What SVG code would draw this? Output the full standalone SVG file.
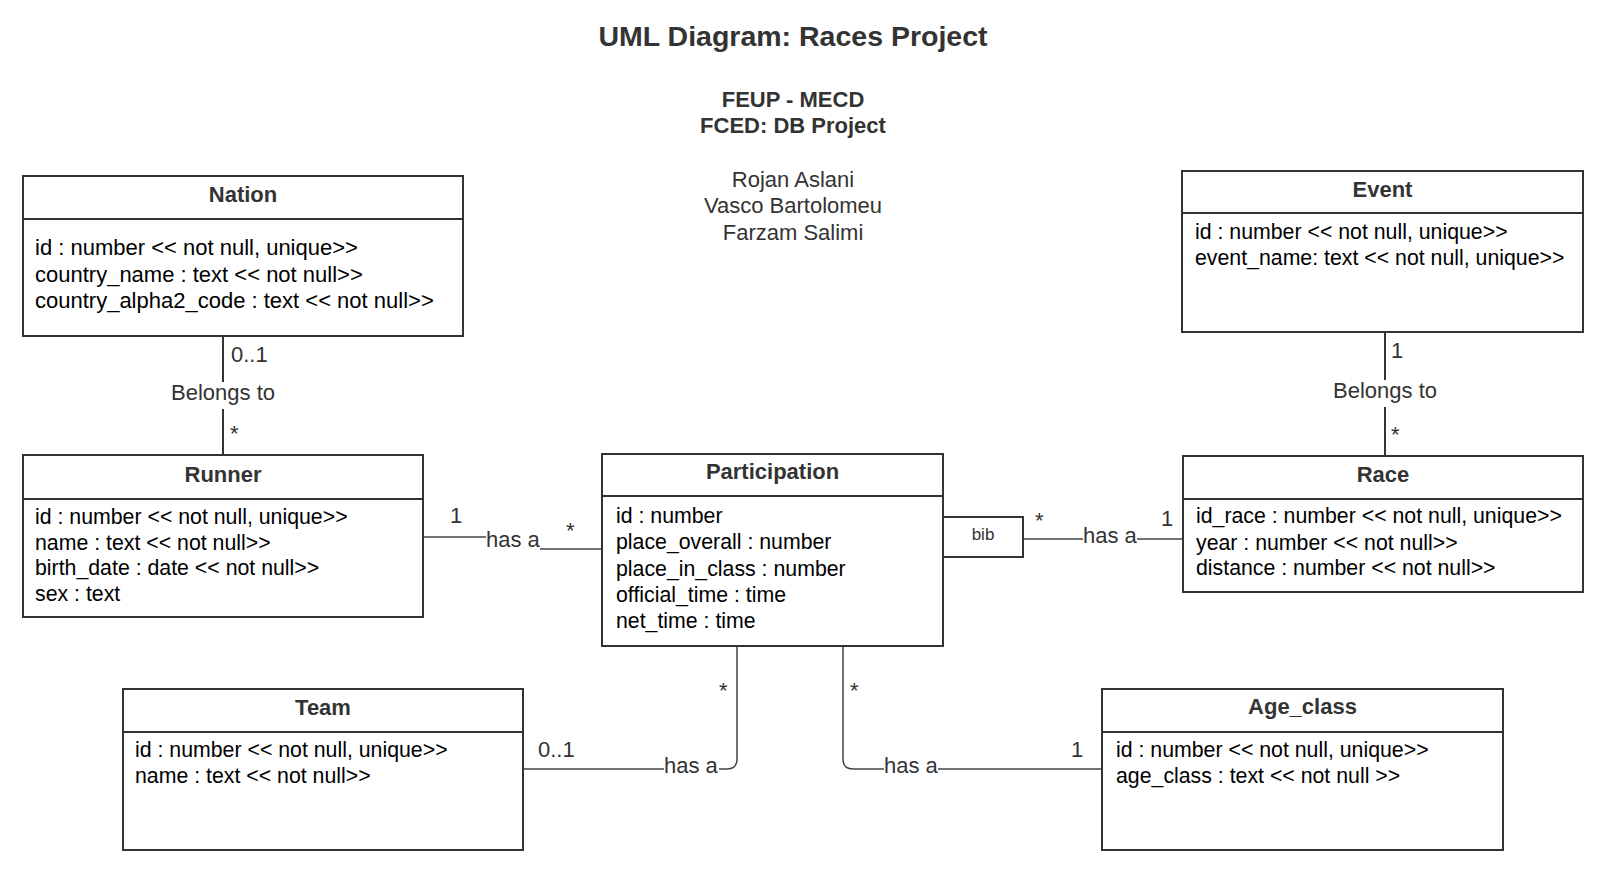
<svg xmlns="http://www.w3.org/2000/svg" width="1606" height="876" viewBox="0 0 1606 876">
<style>
.box{fill:#fff;stroke:#333;stroke-width:2}
.sep{stroke:#333;stroke-width:2}
.ttl{font-family:"Liberation Sans",Arial,sans-serif;font-weight:bold;font-size:22px;fill:#333;text-anchor:middle}
.att{font-family:"Liberation Sans",Arial,sans-serif;font-size:21.3px;fill:#000}
.att22{font-family:"Liberation Sans",Arial,sans-serif;font-size:22px;fill:#000}
.lbl{font-family:"Liberation Sans",Arial,sans-serif;font-size:22px;fill:#333}
.bibt{font-family:"Liberation Sans",Arial,sans-serif;font-size:17px;fill:#333;text-anchor:middle}
.mid{text-anchor:middle}
.con{fill:none;stroke:#444;stroke-width:1.5}
.conb{fill:none;stroke:#333;stroke-width:2}
.hdr{font-family:"Liberation Sans",Arial,sans-serif;fill:#333;text-anchor:middle}
</style>
<rect width="1606" height="876" fill="#fff"/>
<g id="header">
<text class="hdr" x="793" y="46" font-size="28.5" font-weight="bold">UML Diagram: Races Project</text>
<text class="hdr" x="793" y="107" font-size="22" font-weight="bold">FEUP - MECD</text>
<text class="hdr" x="793" y="133" font-size="22" font-weight="bold">FCED: DB Project</text>
<text class="hdr" x="793" y="187" font-size="22">Rojan Aslani</text>
<text class="hdr" x="793" y="213" font-size="22">Vasco Bartolomeu</text>
<text class="hdr" x="793" y="240" font-size="22">Farzam Salimi</text>
</g>
<g id="connectors">
<path class="conb" d="M223 336V382M223 409V455"/>
<text class="lbl mid" x="223" y="400">Belongs to</text>
<text class="lbl" x="231" y="362">0..1</text>
<text class="lbl" x="230" y="441">*</text>
<path class="conb" d="M1385 332V380M1385 407V456"/>
<text class="lbl mid" x="1385" y="398">Belongs to</text>
<text class="lbl" x="1391" y="358">1</text>
<text class="lbl" x="1391" y="442">*</text>
<path class="con" d="M423 537H486M540 549H602"/>
<text class="lbl" x="486" y="547">has a</text>
<text class="lbl" x="450" y="523">1</text>
<text class="lbl" x="566" y="538">*</text>
<path class="con" d="M1023 539H1083M1137 539H1183"/>
<text class="lbl" x="1083" y="543">has a</text>
<text class="lbl" x="1035" y="528">*</text>
<text class="lbl" x="1161" y="526">1</text>
<path class="con" d="M523 769H664M719 769H727Q737 769 737 759V646"/>
<text class="lbl" x="664" y="773">has a</text>
<text class="lbl" x="538" y="757">0..1</text>
<text class="lbl" x="719" y="698">*</text>
<path class="con" d="M843 646V759Q843 769 853 769H884M938 769H1102"/>
<text class="lbl" x="884" y="773">has a</text>
<text class="lbl" x="850" y="698">*</text>
<text class="lbl" x="1071" y="757">1</text>
</g>
<g id="nation">
<rect class="box" x="23" y="176" width="440" height="160"/>
<line class="sep" x1="23" y1="219" x2="463" y2="219"/>
<text class="ttl" x="243" y="202">Nation</text>
<text class="att22" x="35" y="255">id : number &lt;&lt; not null, unique&gt;&gt;</text>
<text class="att22" x="35" y="282">country_name : text &lt;&lt; not null&gt;&gt;</text>
<text class="att22" x="35" y="308">country_alpha2_code : text &lt;&lt; not null&gt;&gt;</text>
</g>
<g id="event">
<rect class="box" x="1182" y="171" width="401" height="161"/>
<line class="sep" x1="1182" y1="213" x2="1583" y2="213"/>
<text class="ttl" x="1382.5" y="197">Event</text>
<text class="att" x="1195" y="239">id : number &lt;&lt; not null, unique&gt;&gt;</text>
<text class="att" x="1195" y="265">event_name: text &lt;&lt; not null, unique&gt;&gt;</text>
</g>
<g id="runner">
<rect class="box" x="23" y="455" width="400" height="162"/>
<line class="sep" x1="23" y1="499" x2="423" y2="499"/>
<text class="ttl" x="223" y="482">Runner</text>
<text class="att" x="35" y="524">id : number &lt;&lt; not null, unique&gt;&gt;</text>
<text class="att" x="35" y="550">name : text &lt;&lt; not null&gt;&gt;</text>
<text class="att" x="35" y="575">birth_date : date &lt;&lt; not null&gt;&gt;</text>
<text class="att" x="35" y="601">sex : text</text>
</g>
<g id="participation">
<rect class="box" x="602" y="454" width="341" height="192"/>
<line class="sep" x1="602" y1="496" x2="943" y2="496"/>
<text class="ttl" x="772.5" y="479">Participation</text>
<text class="att" x="616" y="523">id : number</text>
<text class="att" x="616" y="549">place_overall : number</text>
<text class="att" x="616" y="576">place_in_class : number</text>
<text class="att" x="616" y="602">official_time : time</text>
<text class="att" x="616" y="628">net_time : time</text>
</g>
<g id="bib">
<rect class="box" x="943" y="517" width="80" height="40"/>
<text class="bibt" x="983" y="540">bib</text>
</g>
<g id="race">
<rect class="box" x="1183" y="456" width="400" height="136"/>
<line class="sep" x1="1183" y1="499" x2="1583" y2="499"/>
<text class="ttl" x="1383" y="482">Race</text>
<text class="att" x="1196" y="523">id_race : number &lt;&lt; not null, unique&gt;&gt;</text>
<text class="att" x="1196" y="550">year : number &lt;&lt; not null&gt;&gt;</text>
<text class="att" x="1196" y="575">distance : number &lt;&lt; not null&gt;&gt;</text>
</g>
<g id="team">
<rect class="box" x="123" y="689" width="400" height="161"/>
<line class="sep" x1="123" y1="732" x2="523" y2="732"/>
<text class="ttl" x="323" y="715">Team</text>
<text class="att" x="135" y="757">id : number &lt;&lt; not null, unique&gt;&gt;</text>
<text class="att" x="135" y="783">name : text &lt;&lt; not null&gt;&gt;</text>
</g>
<g id="age_class">
<rect class="box" x="1102" y="689" width="401" height="161"/>
<line class="sep" x1="1102" y1="732" x2="1503" y2="732"/>
<text class="ttl" x="1302.5" y="714">Age_class</text>
<text class="att" x="1116" y="757">id : number &lt;&lt; not null, unique&gt;&gt;</text>
<text class="att" x="1116" y="783">age_class : text &lt;&lt; not null &gt;&gt;</text>
</g>
</svg>
